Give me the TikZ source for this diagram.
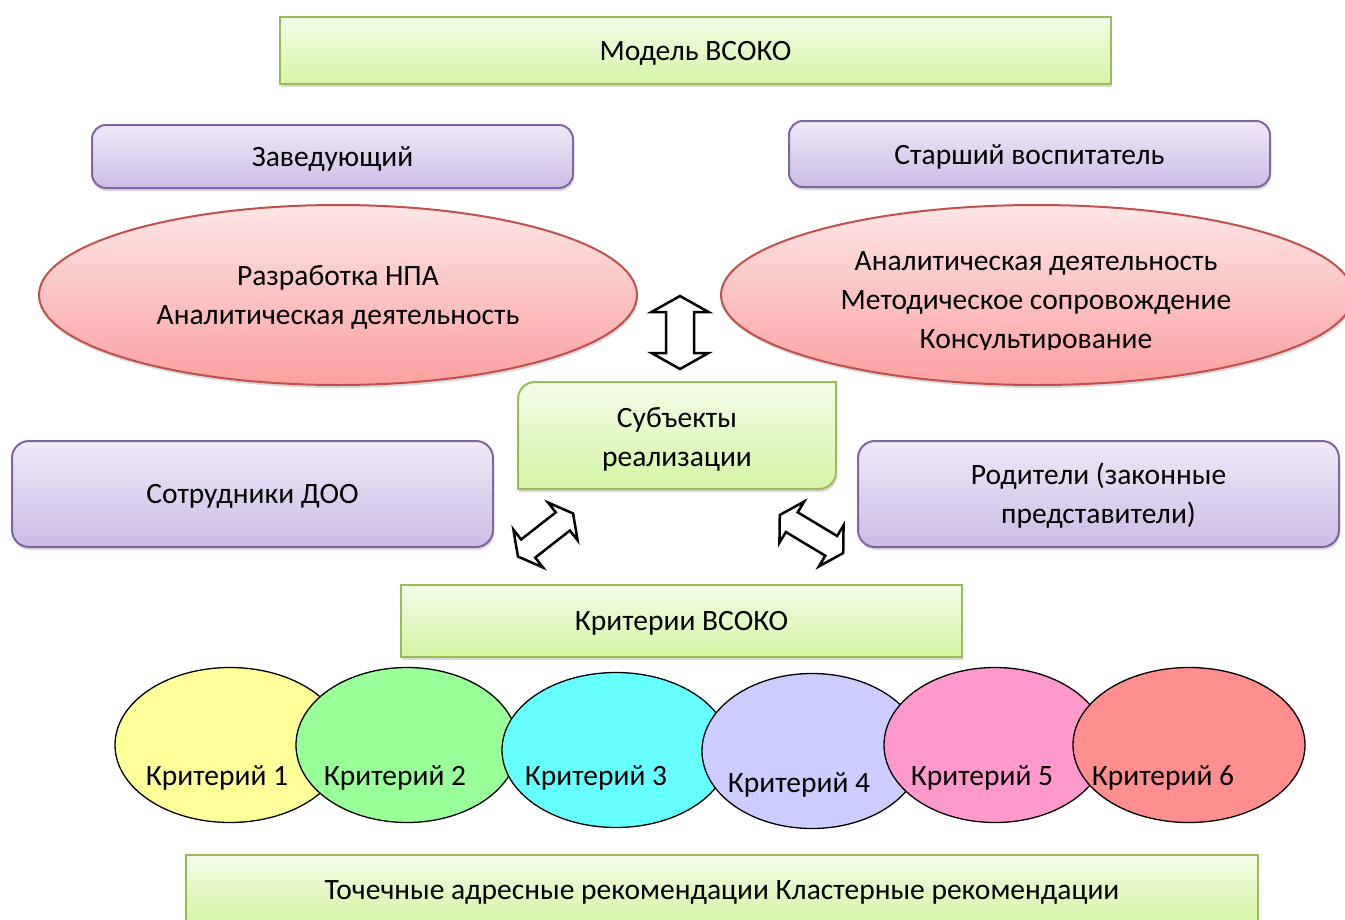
\documentclass[tikz,border=0pt]{standalone}
\usepackage{fontspec}
\setmainfont{Carlito}
\usetikzlibrary{shapes.geometric,shadows}
\definecolor{gtop}{HTML}{F3FCE8}
\definecolor{gbot}{HTML}{D5F5A4}
\definecolor{gbrd}{HTML}{9BBB59}
\definecolor{ptop}{HTML}{EFE9F7}
\definecolor{pbot}{HTML}{CCBCE6}
\definecolor{pbrd}{HTML}{8064A2}
\definecolor{rtop}{HTML}{FDE6E6}
\definecolor{rbot}{HTML}{FBA0A0}
\definecolor{rbrd}{HTML}{C0504D}
\definecolor{kone}{HTML}{FFFF99}
\definecolor{ktwo}{HTML}{99FF99}
\definecolor{kthree}{HTML}{66FFFF}
\definecolor{kfour}{HTML}{CCCCFF}
\definecolor{kfive}{HTML}{FF99CC}
\definecolor{ksix}{HTML}{FF8F8F}
\newcommand\blockarrow[7]{%
  \draw[barrow, shift={(#1,#2)}, rotate=#3]
    ({#4/2},0) -- ({#4/2-#6},{#5/2}) -- ({#4/2-#6},{#7/2}) -- ({-#4/2+#6},{#7/2})
    -- ({-#4/2+#6},{#5/2}) -- ({-#4/2},0) -- ({-#4/2+#6},{-#5/2}) -- ({-#4/2+#6},{-#7/2})
    -- ({#4/2-#6},{-#7/2}) -- ({#4/2-#6},{-#5/2}) -- cycle;}
\begin{document}
\begin{tikzpicture}[x=1pt,y=-1pt,
  every node/.style={font=\fontsize{29.5}{39}\selectfont, align=center, inner sep=0pt},
  shade/.style={drop shadow={shadow xshift=1pt, shadow yshift=-3pt, opacity=0.3}},
  gbox/.style={rectangle, draw=gbrd, line width=2pt, top color=gtop, bottom color=gbot, shade},
  pbox/.style={rectangle, rounded corners=14pt, draw=pbrd, line width=2pt, top color=ptop, bottom color=pbot, shade},
  rell/.style={ellipse, draw=rbrd, line width=2pt, top color=rtop, bottom color=rbot, shade},
  kell/.style={ellipse, draw=black, line width=1.3pt, minimum height=155pt},
  barrow/.style={draw=black, fill=white, line width=2.5pt, line join=miter},
]
\useasboundingbox (0,0) rectangle (1345,919);

\node[gbox, minimum width=831pt, minimum height=67pt] (model) at (695.5,50.5) {};
\node (modelt) at (695.5,53) {Модель ВСОКО};

\node[pbox, minimum width=481pt, minimum height=63pt] (zav) at (332.5,156.5) {};
\node (zavt) at (332.5,159) {Заведующий};
\node[pbox, minimum width=481pt, minimum height=66pt] (star) at (1029.5,154) {};
\node (start) at (1029.5,156.5) {Старший воспитатель};

\node[rell, minimum width=598pt, minimum height=180pt] (lell) at (338,295) {};
\node (ltext) at (338,297.5) {Разработка НПА\\Аналитическая деятельность};
\node[rell, minimum width=632pt, minimum height=180pt] (rell) at (1037,295) {};
\begin{scope}
  \clip (720,200) rectangle (1345,349);
  \node (rtext) at (1036,302.5) {Аналитическая деятельность\\Методическое сопровождение\\Консультирование};
\end{scope}

\blockarrow{680}{332.5}{90}{73}{57}{16}{28}

% subjects box: rounded top-left and bottom-right
\path[draw=gbrd, line width=2pt, top color=gtop, bottom color=gbot, shade]
  (518,489) -- (518,399) arc[start angle=180, end angle=270, radius=17] -- (836,382)
  -- (836,472) arc[start angle=0, end angle=90, radius=17] -- cycle;
\node (subj) at (677,439.5) {Субъекты\\реализации};

\node[pbox, rounded corners=17pt, minimum width=481pt, minimum height=106pt] (sotr) at (252.5,494) {};
\node (sotrt) at (252.5,496) {Сотрудники ДОО};
\node[pbox, rounded corners=17pt, minimum width=481pt, minimum height=106pt] (rod) at (1098.5,494) {};
\node (rodt) at (1098.5,496) {Родители (законные\\представители)};

\blockarrow{545.5}{535}{38}{70}{48}{13}{23}
\blockarrow{811.5}{534}{-31}{74}{48}{14}{23}

\node[gbox, minimum width=561pt, minimum height=72pt] (krit) at (681.5,621) {};
\node (kritt) at (681.5,623) {Критерии ВСОКО};

\node[kell, fill=kone, minimum width=230pt] (k1) at (230,745) {};
\node[kell, fill=ktwo, minimum width=222pt] (k2) at (407,745) {};
\node[kell, fill=kthree, minimum width=228pt] (k3) at (616,750) {};
\node[kell, fill=kfour, minimum width=220pt] (k4) at (812,751) {};
\node[kell, fill=kfive, minimum width=222pt] (k5) at (995,745) {};
\node[kell, fill=ksix, minimum width=232pt] (k6) at (1189,745) {};
\node (k1t) at (217,778) {Критерий 1};
\node (k2t) at (395,778) {Критерий 2};
\node (k3t) at (596,778) {Критерий 3};
\node (k4t) at (799,785) {Критерий 4};
\node (k5t) at (982,778) {Критерий 5};
\node (k6t) at (1163,778) {Критерий 6};

\node[gbox, minimum width=1072pt, minimum height=68pt] (rec) at (722,889) {};
\node (rect) at (722,892) {Точечные адресные рекомендации Кластерные рекомендации};
\end{tikzpicture}
\end{document}
